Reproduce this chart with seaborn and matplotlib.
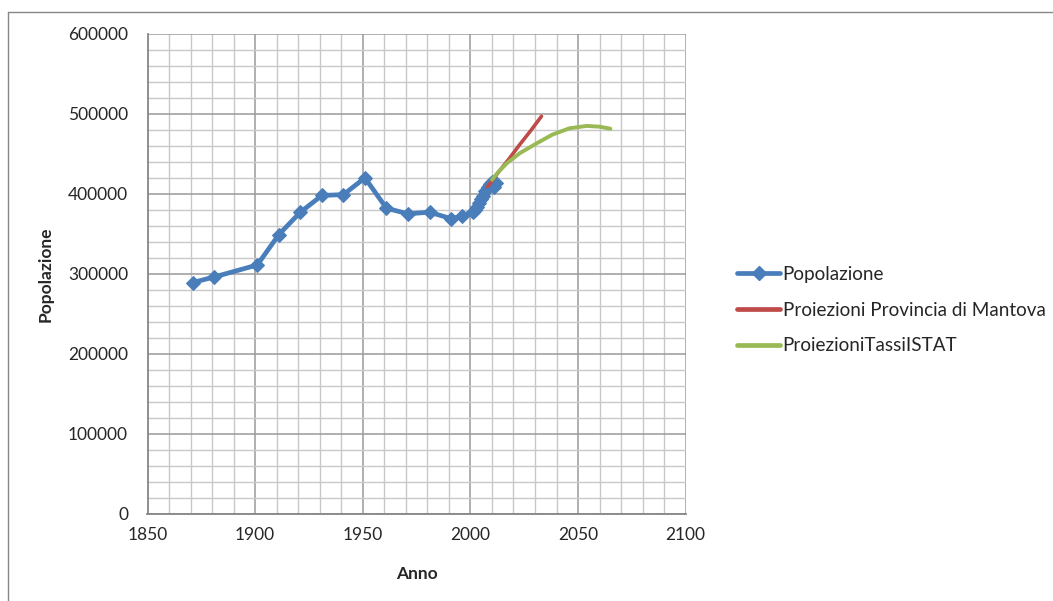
import matplotlib
matplotlib.use("Agg")
import matplotlib.pyplot as plt
import matplotlib.ticker as mtick
from matplotlib.lines import Line2D
import pandas as pd
import seaborn as sns

# ──────────────────────────────────────────────
# Data
# ──────────────────────────────────────────────
anni_pop = [1871, 1881, 1901, 1911, 1921, 1931, 1941, 1951, 1961, 1971, 1981,
            1991, 1996, 2001, 2002, 2003, 2004, 2005, 2006, 2007, 2008, 2009,
            2010, 2011, 2012]
popolazione = [289000, 296000, 311000, 349000, 377000, 398000, 399000, 420000,
               382000, 375000, 377000, 369000, 372000, 377800, 379500, 383000,
               388000, 393000, 397500, 403000, 408500, 412000, 415000, 408000,
               413000]

anni_mantova = [2008, 2013, 2018, 2023, 2028, 2033]
proiezioni_mantova = [409000, 427000, 444000, 462000, 479000, 497000]

anni_istat = [2010, 2013, 2017, 2023, 2031, 2038, 2046, 2054, 2060, 2065]
proiezioni_istat = [417500, 427500, 438500, 451000, 463500, 474000, 482000,
                    485000, 484000, 481500]

LABEL_POP = "Popolazione"
LABEL_MANTOVA = "Proiezioni Provincia di Mantova"
LABEL_ISTAT = "ProiezioniTassiISTAT"

BLUE = "#4A7EBB"
RED = "#BE4B48"
GREEN = "#98B954"

# ──────────────────────────────────────────────
# Style
# ──────────────────────────────────────────────
sns.set_style("white")
plt.rcParams["font.family"] = ["Lato", "DejaVu Sans"]
plt.rcParams["font.size"] = 12

fig = plt.figure(figsize=(10.53, 6.01), dpi=100)
ax = fig.add_axes([147.5 / 1053, 87.5 / 601, 538.2 / 1053, 479.5 / 601])

df_pop = pd.DataFrame({"Anno": anni_pop, "Popolazione": popolazione})
df_man = pd.DataFrame({"Anno": anni_mantova, "Popolazione": proiezioni_mantova})
df_ist = pd.DataFrame({"Anno": anni_istat, "Popolazione": proiezioni_istat})

sns.lineplot(data=df_pop, x="Anno", y="Popolazione", ax=ax, color=BLUE,
             lw=3.4, marker="D", markersize=7, markeredgecolor=BLUE,
             sort=False, estimator=None, zorder=3)
sns.lineplot(data=df_man, x="Anno", y="Popolazione", ax=ax, color=RED,
             lw=2.6, sort=False, estimator=None, zorder=4)
sns.lineplot(data=df_ist, x="Anno", y="Popolazione", ax=ax, color=GREEN,
             lw=2.8, sort=False, estimator=None, zorder=5)

ax.set_xlim(1850, 2100)
ax.set_ylim(0, 600000)
ax.xaxis.set_major_locator(mtick.MultipleLocator(50))
ax.xaxis.set_minor_locator(mtick.MultipleLocator(10))
ax.yaxis.set_major_locator(mtick.MultipleLocator(100000))
ax.yaxis.set_minor_locator(mtick.MultipleLocator(20000))
ax.yaxis.set_major_formatter(mtick.FormatStrFormatter("%d"))

ax.grid(which="major", color="#9A9A9A", lw=1.1, zorder=0)
ax.grid(which="minor", color="#C8C8C8", lw=1.0, zorder=0)
ax.set_axisbelow(True)

for side in ["top", "right"]:
    ax.spines[side].set_visible(False)
for side in ["left", "bottom"]:
    ax.spines[side].set_color("#868686")
    ax.spines[side].set_linewidth(1.3)

ax.tick_params(which="major", direction="out", length=4, width=1,
               color="#868686", labelsize=12.5, pad=10)
ax.tick_params(axis="x", which="major", pad=6)
ax.tick_params(which="minor", length=0)

ax.set_xlabel("Anno", fontsize=12.5, fontweight="bold", labelpad=16)
ax.set_ylabel("Popolazione", fontsize=12.5, fontweight="bold", labelpad=10)

handles = [
    Line2D([], [], color=BLUE, lw=3.4, marker="D", markersize=7),
    Line2D([], [], color=RED, lw=3.4),
    Line2D([], [], color=GREEN, lw=3.4),
]
fig.legend(handles, [LABEL_POP, LABEL_MANTOVA, LABEL_ISTAT],
           loc="center left", bbox_to_anchor=(737 / 1053, 1 - 310 / 601),
           frameon=False, fontsize=13.6, handlelength=2.3, handletextpad=0.12,
           labelspacing=1.0, borderpad=0, borderaxespad=0)

# outer chart frame (only top and left edges fall inside the picture)
fig.add_artist(Line2D([8 / 1053, 8 / 1053], [0, 1 - 12 / 601],
                      transform=fig.transFigure, color="#868686", lw=1))
fig.add_artist(Line2D([8 / 1053, 1], [1 - 12 / 601, 1 - 12 / 601],
                      transform=fig.transFigure, color="#868686", lw=1))

fig.savefig("out.png", dpi=100)
